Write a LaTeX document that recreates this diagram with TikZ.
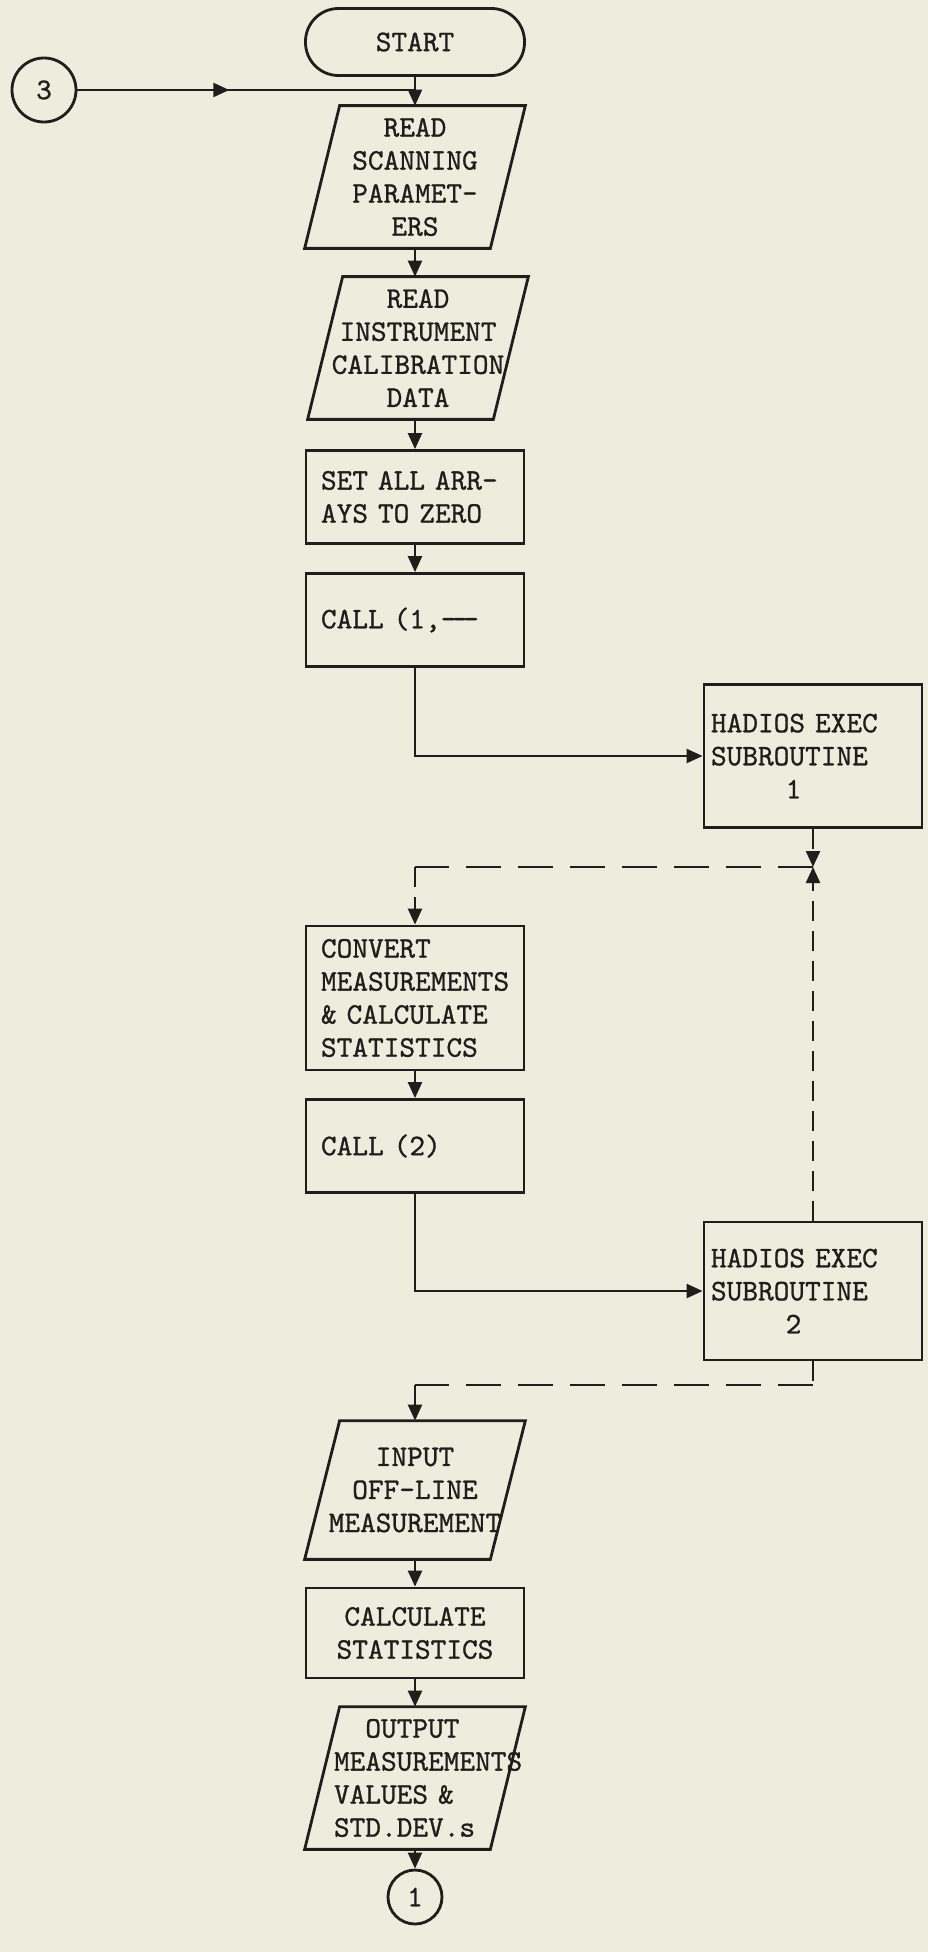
\documentclass[tikz,border=0pt]{standalone}
\usepackage{fontspec}
\usepackage{tikz}
\usetikzlibrary{arrows.meta, decorations.markings}
\newfontfamily\typer{lmmono10-regular.otf}[FakeBold=0.9]
\definecolor{paper}{RGB}{237,237,222}
\definecolor{ink}{RGB}{30,30,28}

\begin{document}
\begin{tikzpicture}[x=0.2mm, y=-0.2mm,
    font={\typer\fontsize{17pt}{18.8pt}\selectfont},
    every node/.style={text=ink},
    shapeline/.style={draw=ink, line width=1.6pt},
    procbox/.style={shapeline, rectangle, minimum width=43.6mm, minimum height=18.6mm, text width=37.6mm, inner xsep=3mm, align=left},
    subbox/.style={procbox, text width=40.8mm, inner xsep=1.4mm, minimum height=28.6mm},
    iobox/.style={minimum width=44mm, minimum height=28.4mm, inner sep=0pt, align=center},
    termbox/.style={shapeline, rounded corners=6.6mm, minimum width=43.8mm, minimum height=13.4mm},
    pagecircle/.style={shapeline, circle, inner sep=0pt},
    flow/.style={draw=ink, line width=1.3pt, -{Triangle[length=3.2mm, width=2.8mm]}},
    hdash/.style={draw=ink, line width=1.3pt, dash pattern=on 7mm off 3.4mm},
    vdash/.style={draw=ink, line width=1.3pt, dash pattern=on 4mm off 2mm},
    midarrow/.style={postaction={decorate}, decoration={markings, mark=at position 0.45 with {\arrow{Triangle[length=3.2mm, width=2.8mm]}}}}
]
    % Paper and bounding box
    \fill[paper] (0,0) rectangle (928,1952);
    \useasboundingbox (0,0) rectangle (928,1952);

    \def\slant{7mm}
    \def\ioshape#1{\draw[shapeline] ([xshift=\slant]#1.north west) -- (#1.north east) -- ([xshift=-\slant]#1.south east) -- (#1.south west) -- cycle;}

    % Main column
    \node[pagecircle, minimum size=12.8mm] (c3) at (44,90) {3};
    \node[termbox] (start) at (415,42) {START};
    \node[iobox] (rdscan) at (415,177) {READ\\SCANNING\\PARAMET-\\ERS};
    \node[iobox] (rdcal) at (418,348) {READ\\INSTRUMENT\\CALIBRATION\\DATA};
    \node[procbox] (zero) at (415,497) {SET ALL ARR-\\AYS TO ZERO};
    \node[procbox] (call1) at (415,620) {CALL (1,—\kern-0.15em—\kern-0.15em—};
    \node[procbox, minimum height=28.8mm] (convert) at (415,998) {CONVERT\\MEASUREMENTS\\\& CALCULATE\\STATISTICS};
    \node[procbox] (call2) at (415,1146) {CALL (2)};
    \node[iobox, minimum height=27.6mm] (input) at (415,1490) {INPUT\\OFF-LINE\\MEASUREMENT};
    \node[procbox, minimum height=18mm, align=center] (calc) at (415,1633) {CALCULATE\\STATISTICS};
    \node[iobox, align=left, text width=32.4mm] (output) at (415,1778) {\hspace*{1.05em}OUTPUT\\MEASUREMENTS\\VALUES \&\\STD.DEV.s};
    \node[pagecircle, minimum size=10.8mm] (c1) at (415,1897) {1};

    % Subroutines
    \node[subbox] (hadex1) at (813,756) {HADIOS EXEC\\SUBROUTINE\\\hspace*{2.5em}1};
    \node[subbox, minimum height=27.6mm] (hadex2) at (813,1291) {HADIOS EXEC\\SUBROUTINE\\\hspace*{2.5em}2};

    % Input/output outlines
    \ioshape{rdscan}
    \ioshape{rdcal}
    \ioshape{input}
    \ioshape{output}

    % Solid flow
    \coordinate (j3) at (start.south |- c3.east);
    \draw[line width=1.3pt, draw=ink, midarrow] (c3.east) -- (j3);
    \draw[flow] (start.south) -- (rdscan.north);
    \draw[flow] (rdscan.south) -- (rdscan.south |- rdcal.north);
    \draw[flow] (rdcal.south -| zero.north) -- (zero.north);
    \draw[flow] (zero.south) -- (call1.north);
    \draw[flow] (call1.south) |- (hadex1.west);
    \draw[flow] (convert.south) -- (call2.north);
    \draw[flow] (call2.south) |- (hadex2.west);
    \draw[flow] (input.south) -- (calc.north);
    \draw[flow] (calc.south) -- (output.north);
    \draw[flow] (output.south) -- (c1.north);

    % Dashed returns
    \coordinate (bow) at (813,867);
    \coordinate (cvin) at (bow -| convert.north);
    \coordinate (ret) at (813,1385);
    \coordinate (inin) at (ret -| input.north);
    \draw[vdash, flow] (hadex1.south) -- (bow);
    \draw[vdash, flow] (hadex2.north) -- (bow);
    \draw[hdash] (bow) -- (cvin);
    \draw[vdash, flow] (cvin) -- (convert.north);
    \draw[vdash] (hadex2.south) -- (ret);
    \draw[hdash] (ret) -- (inin);
    \draw[vdash, flow] (inin) -- (input.north);
\end{tikzpicture}
\end{document}
